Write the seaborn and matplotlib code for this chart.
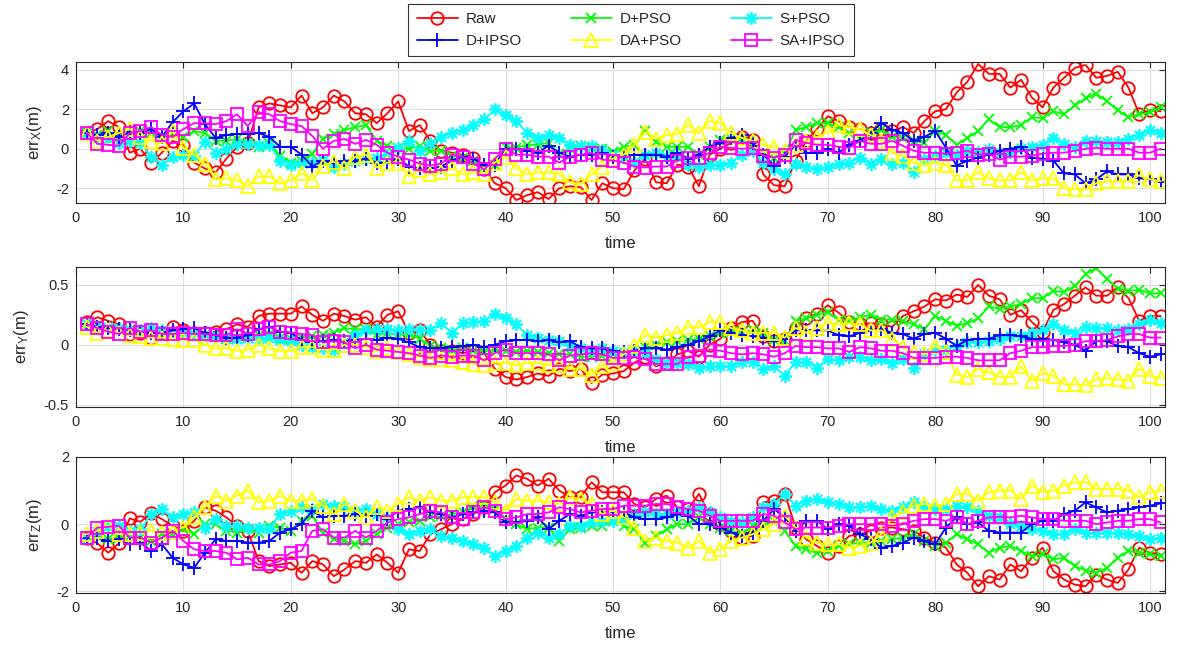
import numpy as np
import pandas as pd
import matplotlib
matplotlib.use("Agg")
import matplotlib.pyplot as plt
import seaborn as sns

# ---------------- data ----------------
t = list(range(1, 102))
names = ["Raw", "D+IPSO", "D+PSO", "DA+PSO", "S+PSO", "SA+IPSO"]

raw_x = [0.8,1.0,1.4,1.1,-0.2,0.0,-0.7,-0.2,0.4,0.2,-0.7,-1.0,-1.2,-0.5,0.1,0.3,2.1,2.3,2.2,2.1,
         2.7,1.8,2.1,2.7,2.4,1.8,1.75,1.3,1.8,2.4,0.9,1.2,0.4,-0.1,-0.2,-0.3,-0.45,-1.05,-1.75,-2.0,
         -2.6,-2.35,-2.2,-2.55,-2.0,-1.9,-1.95,-2.6,-1.75,-2.0,-2.05,-1.1,-0.5,-1.7,-1.75,-0.8,-0.9,-1.9,-0.3,0.0,
         0.3,0.6,0.45,-1.3,-1.85,-1.9,-0.6,0.4,1.0,1.65,1.4,1.1,1.0,0.8,1.0,0.9,1.1,0.8,1.4,1.9,
         2.0,2.85,3.4,4.3,3.8,3.8,3.1,3.5,2.6,2.1,3.1,3.6,4.1,4.25,3.6,3.7,3.9,3.1,1.75,1.95,1.9]
dipso_x = [0.8,0.7,0.8,0.6,0.85,0.8,1.0,0.6,1.35,1.9,2.3,1.25,0.55,0.7,0.75,0.75,0.8,0.6,0.1,0.1,
           -0.3,-0.9,-0.6,-0.7,-0.6,-0.6,-0.5,-0.7,-0.7,-0.5,-0.9,-1.0,-1.0,-0.9,-0.6,-0.4,-0.5,-0.8,-0.8,0.0,
           0.0,-0.1,-0.2,0.15,-0.2,-0.4,-0.3,-0.3,-0.2,-0.4,-0.4,-0.3,-0.3,-0.3,-0.4,-0.2,-0.5,-0.3,0.1,0.3,
           0.55,0.7,0.3,-0.3,-0.85,-0.4,0.2,-0.2,-0.2,0.0,-0.2,0.2,0.4,0.8,1.3,0.95,0.8,0.4,0.6,0.9,
           0.05,-0.85,-0.6,-0.45,-0.3,-0.1,0.0,0.1,-0.45,-0.5,-0.6,-1.25,-1.3,-1.75,-1.55,-1.15,-1.3,-1.3,-1.5,-1.55,-1.7]
dpso_x = [0.8,0.7,0.9,0.6,0.8,0.9,0.8,0.6,0.8,0.6,0.9,0.8,0.4,0.4,0.5,0.3,0.1,0.3,-0.35,-0.7,
          -0.6,-0.25,0.5,0.75,0.95,1.1,1.2,0.4,0.15,0.05,0.0,0.15,-0.1,-0.1,-0.35,-0.45,-0.6,-0.9,-0.8,0.1,
          0.05,0.2,0.2,0.3,-0.25,0.0,0.15,0.05,0.0,-0.15,0.1,0.2,0.9,0.35,0.1,0.1,0.1,-0.3,0.1,0.45,
          0.5,0.4,0.2,-0.2,-0.45,-0.25,0.95,1.1,1.3,1.3,1.1,0.8,0.55,0.8,0.95,0.6,0.55,0.4,0.3,0.9,
          0.7,0.2,0.55,0.9,1.5,1.1,1.1,1.2,1.6,1.55,1.9,1.75,2.2,2.55,2.8,2.4,1.95,1.6,1.75,1.85,2.1]
dapso_x = [0.8,0.4,0.6,0.8,1.0,0.6,0.4,0.3,0.9,0.05,-0.3,-0.75,-1.55,-1.5,-1.6,-1.9,-1.4,-1.4,-1.75,-1.6,
           -1.25,-1.6,-0.85,-0.65,-1.0,-0.4,-0.3,-0.95,-0.7,-0.7,-1.4,-1.1,-1.3,-1.2,-1.0,-1.3,-1.2,-1.3,-0.7,-0.4,
           -1.0,-1.3,-1.2,-1.2,-1.3,-1.7,-1.8,-1.3,-0.9,-0.5,-0.3,0.2,0.85,0.5,0.7,0.75,1.2,0.8,1.4,1.3,
           0.8,0.55,0.4,0.2,0.1,-0.1,0.2,0.4,0.6,0.85,1.2,1.1,1.0,0.7,0.4,-0.2,-0.35,-0.7,-0.8,-0.7,
           -0.8,-1.6,-1.6,-1.2,-1.5,-1.6,-1.6,-1.2,-1.6,-1.5,-1.5,-2.0,-2.05,-2.05,-1.75,-1.65,-1.65,-1.65,-1.35,-1.55,-1.65]
spso_x = [0.8,0.55,0.5,0.3,0.4,0.3,-0.4,-0.8,-0.4,-0.3,-0.35,0.35,-0.2,0.0,0.25,0.25,0.2,0.2,-0.6,-0.8,
          -0.7,-0.7,-0.55,-0.9,-0.75,-0.6,-0.5,-0.45,-0.3,0.05,0.4,-0.1,0.3,0.6,0.8,0.95,1.2,1.5,2.0,1.7,
          1.4,0.8,0.55,0.7,0.55,0.2,0.15,0.15,-0.05,-0.3,-0.4,-0.65,-0.3,-0.2,-0.4,-0.3,-0.8,-0.9,-0.8,-0.8,
          -0.7,-0.3,-0.1,-0.7,-1.05,-1.3,-0.75,-0.9,-1.05,-0.9,-0.75,-0.7,-0.45,-0.75,-0.5,-0.75,-0.7,-1.2,-0.5,-0.35,
          -0.2,-0.3,-0.1,-0.15,0.0,-0.2,-0.15,0.05,0.1,0.2,0.55,0.25,0.1,0.4,0.4,0.35,0.35,0.5,0.7,0.95,0.8]
saipso_x = [0.8,0.25,0.2,0.15,0.8,0.9,1.1,0.7,0.6,1.0,1.3,1.3,1.25,1.4,1.75,1.15,1.85,1.75,1.4,1.25,
            1.15,0.65,0.0,0.4,0.5,0.25,0.45,0.2,-0.2,-0.4,-0.55,-0.75,-0.85,-0.75,-0.3,-0.4,-0.75,-1.05,-0.5,0.0,
            -0.3,-0.3,-0.4,-0.4,-0.7,-0.4,-0.3,-0.2,-0.55,-0.6,-0.7,-0.9,-0.95,-0.9,-0.9,-0.6,-0.45,-0.45,-0.2,0.1,
            0.05,0.0,0.05,-0.35,-0.45,-0.3,0.45,0.3,0.2,0.2,0.1,0.05,0.4,0.25,0.25,0.4,0.15,-0.1,-0.2,-0.2,
            -0.25,-0.2,-0.1,-0.3,-0.25,-0.55,-0.4,-0.4,-0.35,-0.25,-0.2,-0.2,-0.1,0.0,0.05,0.0,0.0,0.0,-0.2,-0.2,0.0]

raw_y = [0.19,0.23,0.2,0.17,0.09,0.1,0.06,0.1,0.15,0.12,0.1,0.1,0.11,0.13,0.17,0.15,0.24,0.26,0.26,0.26,
         0.32,0.25,0.2,0.26,0.24,0.21,0.23,0.15,0.25,0.28,0.1,0.12,0.0,-0.05,-0.05,-0.07,-0.05,-0.07,-0.2,-0.27,
         -0.29,-0.27,-0.24,-0.26,-0.2,-0.22,-0.2,-0.32,-0.25,-0.24,-0.22,-0.15,-0.1,-0.18,-0.15,-0.08,-0.05,-0.1,0.0,0.05,
         0.14,0.19,0.2,0.07,0.03,0.05,0.14,0.22,0.26,0.33,0.27,0.19,0.17,0.18,0.17,0.15,0.24,0.28,0.32,0.38,
         0.37,0.42,0.4,0.5,0.41,0.38,0.25,0.29,0.19,0.11,0.29,0.34,0.41,0.48,0.41,0.41,0.48,0.39,0.2,0.24,0.24]
dipso_y = [0.17,0.15,0.14,0.13,0.12,0.11,0.1,0.1,0.12,0.13,0.14,0.1,0.08,0.06,0.06,0.08,0.13,0.15,0.11,0.1,
           0.04,0.02,0.03,0.04,0.03,0.04,0.05,0.04,0.06,0.05,0.02,-0.02,-0.03,-0.03,-0.02,-0.01,0.0,-0.02,0.0,0.03,
           0.04,0.04,0.03,0.04,0.02,0.03,-0.02,-0.03,-0.03,-0.05,-0.06,-0.05,-0.03,-0.03,-0.04,-0.02,0.0,0.03,0.07,0.12,
           0.1,0.08,0.07,0.06,0.03,0.05,0.12,0.12,0.12,0.12,0.08,0.07,0.1,0.12,0.13,0.1,0.09,0.05,0.09,0.1,
           0.05,-0.01,0.04,0.05,0.05,0.08,0.08,0.07,0.05,0.05,0.04,0.02,0.0,-0.05,0.03,0.03,-0.01,-0.02,-0.07,-0.1,-0.08]
dpso_y = [0.17,0.15,0.14,0.13,0.12,0.1,0.1,0.08,0.1,0.11,0.09,0.08,0.07,0.05,0.05,0.06,0.08,0.09,0.06,0.05,
          0.06,0.07,0.08,0.1,0.14,0.13,0.13,0.08,0.1,0.08,0.09,0.05,-0.01,-0.03,-0.04,-0.03,-0.05,-0.06,-0.04,-0.05,
          -0.06,-0.05,-0.06,-0.07,-0.08,-0.08,-0.1,-0.1,-0.09,-0.1,-0.08,-0.05,-0.02,0.0,0.02,0.03,0.04,0.05,0.07,0.1,
          0.11,0.11,0.12,0.1,0.04,0.03,0.2,0.22,0.25,0.27,0.21,0.2,0.23,0.25,0.21,0.21,0.2,0.17,0.13,0.24,
          0.2,0.16,0.18,0.22,0.32,0.3,0.32,0.34,0.39,0.39,0.45,0.44,0.49,0.59,0.64,0.55,0.47,0.45,0.46,0.43,0.43]
dapso_y = [0.15,0.1,0.12,0.1,0.08,0.07,0.06,0.06,0.05,0.04,0.04,0.0,-0.03,-0.03,-0.05,-0.04,0.0,-0.03,-0.05,-0.05,
           -0.02,-0.02,-0.04,-0.04,0.0,0.0,-0.02,-0.05,-0.03,-0.06,-0.08,-0.1,-0.12,-0.12,-0.13,-0.14,-0.16,-0.17,-0.15,-0.15,
           -0.17,-0.15,-0.15,-0.17,-0.17,-0.2,-0.2,-0.25,-0.18,-0.15,-0.08,-0.01,0.08,0.06,0.08,0.1,0.15,0.15,0.19,0.19,
           0.14,0.12,0.1,0.1,0.1,0.06,0.14,0.1,0.14,0.18,0.17,0.18,0.17,0.12,0.12,0.05,-0.02,-0.06,-0.08,-0.01,
           -0.06,-0.25,-0.27,-0.2,-0.23,-0.27,-0.27,-0.18,-0.3,-0.24,-0.26,-0.33,-0.33,-0.34,-0.29,-0.28,-0.29,-0.3,-0.2,-0.26,-0.28]
spso_y = [0.17,0.15,0.15,0.14,0.12,0.12,0.14,0.12,0.1,0.1,0.09,0.08,0.07,0.06,0.05,0.06,0.05,0.06,0.04,0.03,
          0.0,-0.02,-0.03,-0.04,0.02,0.08,0.12,0.13,0.13,0.12,0.13,0.12,0.12,0.18,0.1,0.18,0.19,0.2,0.26,0.22,
          0.17,0.08,0.06,0.04,0.03,0.0,-0.03,-0.04,-0.03,-0.05,-0.06,-0.05,-0.07,-0.12,-0.15,-0.15,-0.16,-0.19,-0.18,-0.18,
          -0.18,-0.14,-0.14,-0.2,-0.18,-0.26,-0.14,-0.14,-0.19,-0.12,-0.13,-0.1,-0.1,-0.13,-0.12,-0.15,-0.12,-0.19,-0.07,-0.04,
          -0.04,-0.01,0.02,0.02,0.03,0.05,0.07,0.07,0.1,0.12,0.17,0.12,0.1,0.15,0.14,0.14,0.12,0.13,0.17,0.21,0.18]
saipso_y = [0.17,0.14,0.11,0.09,0.14,0.11,0.12,0.09,0.09,0.1,0.09,0.09,0.08,0.08,0.13,0.09,0.13,0.15,0.11,0.1,
            0.09,0.08,0.02,0.03,0.02,-0.03,0.0,-0.04,-0.05,-0.06,-0.07,-0.09,-0.11,-0.09,-0.1,-0.09,-0.09,-0.13,-0.07,-0.04,
            -0.07,-0.07,-0.07,-0.08,-0.13,-0.09,-0.08,-0.07,-0.08,-0.11,-0.11,-0.1,-0.12,-0.16,-0.16,-0.16,-0.1,-0.09,-0.04,-0.05,
            -0.07,-0.08,-0.07,-0.08,-0.1,-0.07,-0.01,-0.02,-0.02,-0.03,-0.03,-0.06,-0.02,-0.03,-0.05,-0.05,-0.07,-0.11,-0.11,-0.11,
            -0.1,-0.1,-0.11,-0.13,-0.13,-0.13,-0.07,-0.05,-0.02,-0.02,-0.01,-0.01,0.0,0.03,0.03,0.04,0.07,0.09,0.09,0.06,0.06]

raw_z = [-0.42,-0.57,-0.85,-0.57,0.17,0.07,0.32,0.15,-0.05,-0.2,0.1,0.5,0.4,0.2,-0.05,-0.2,-1.1,-1.25,-1.2,-1.15,
         -1.45,-1.1,-1.2,-1.55,-1.35,-1.1,-1.15,-0.9,-1.15,-1.45,-0.75,-0.8,-0.3,-0.15,0.0,0.15,0.3,0.5,0.95,1.15,
         1.45,1.35,1.15,1.35,1.0,0.8,0.8,1.25,0.95,0.95,0.95,0.6,0.5,0.75,0.85,0.5,0.45,0.9,0.3,0.0,
         -0.2,-0.4,-0.35,0.65,0.7,0.9,-0.1,-0.45,-0.65,-0.85,-0.65,-0.35,-0.3,-0.2,-0.1,-0.1,-0.15,-0.2,-0.4,-0.55,
         -0.7,-1.2,-1.45,-1.85,-1.55,-1.65,-1.2,-1.4,-1.0,-0.7,-1.4,-1.65,-1.8,-1.85,-1.5,-1.65,-1.75,-1.35,-0.7,-0.85,-0.9]
dipso_z = [-0.4,-0.4,-0.5,-0.45,-0.6,-0.55,-0.8,-0.6,-1.0,-1.2,-1.3,-0.85,-0.45,-0.5,-0.5,-0.55,-0.55,-0.5,-0.25,-0.15,
           0.0,0.4,0.2,0.25,0.25,0.3,0.25,0.3,0.15,0.4,0.45,0.5,0.35,0.3,0.2,0.3,0.35,0.4,0.35,0.05,
           0.05,0.1,0.2,-0.15,0.1,0.3,0.25,0.35,0.35,0.35,0.35,0.2,0.15,0.15,0.2,0.3,0.25,0.0,0.0,-0.1,
           -0.25,-0.35,-0.25,0.1,0.45,0.2,-0.2,0.1,0.1,-0.15,0.0,-0.05,-0.3,-0.45,-0.7,-0.65,-0.55,-0.4,-0.5,-0.6,
           -0.1,0.2,0.0,0.05,-0.2,-0.25,-0.25,-0.25,0.0,0.1,0.1,0.3,0.4,0.65,0.5,0.35,0.4,0.45,0.5,0.55,0.62]
dpso_z = [-0.4,-0.35,-0.45,-0.4,-0.35,-0.4,-0.5,-0.3,-0.35,-0.15,-0.3,0.0,0.0,-0.2,-0.25,-0.15,-0.25,-0.05,-0.1,-0.2,
          0.1,0.25,-0.25,-0.45,-0.5,-0.6,-0.5,-0.3,-0.1,0.0,0.05,0.1,0.2,0.25,0.3,0.35,0.55,0.6,0.45,0.15,
          0.0,-0.15,-0.1,-0.1,-0.5,-0.15,-0.1,-0.05,-0.05,0.1,-0.05,-0.15,-0.55,-0.35,-0.15,0.0,0.0,0.2,0.0,-0.1,
          -0.2,-0.3,-0.05,-0.05,0.1,-0.2,-0.65,-0.75,-0.85,-0.8,-0.65,-0.6,-0.55,-0.55,-0.5,-0.45,-0.4,-0.3,-0.5,-0.65,
          -0.55,-0.3,-0.45,-0.6,-0.85,-0.7,-0.65,-0.8,-0.95,-0.9,-1.05,-1.0,-1.25,-1.38,-1.45,-1.3,-1.0,-0.8,-0.85,-0.9,-0.95]
dapso_z = [-0.3,-0.2,-0.05,-0.3,-0.3,-0.25,-0.2,-0.25,-0.2,-0.1,0.2,0.5,0.85,0.7,0.85,1.0,0.65,0.7,0.85,0.7,
           0.7,0.75,0.55,0.3,0.6,0.4,0.2,0.5,0.4,0.6,0.8,0.7,0.8,0.7,0.7,0.8,0.8,0.8,0.65,0.4,
           0.75,0.7,0.7,0.65,0.6,0.8,0.75,0.6,0.3,0.4,0.2,-0.1,-0.5,-0.4,-0.5,-0.55,-0.7,-0.5,-0.85,-0.75,
           -0.5,-0.4,-0.3,-0.15,0.0,0.25,-0.1,-0.4,-0.55,-0.6,-0.6,-0.7,-0.65,-0.55,-0.3,0.2,0.35,0.55,0.6,0.55,
           0.6,0.9,0.9,0.7,0.95,1.0,1.0,0.75,1.15,0.95,1.0,1.15,1.25,1.25,1.05,1.05,1.05,1.0,0.8,0.95,1.0]
spso_z = [-0.4,-0.2,-0.05,-0.05,-0.2,-0.15,0.3,0.45,0.2,0.3,0.35,-0.1,0.15,-0.05,-0.05,-0.1,-0.1,-0.15,0.3,0.4,
          0.5,0.45,0.6,0.55,0.5,0.4,0.45,0.3,0.2,-0.15,-0.3,-0.2,-0.15,-0.35,-0.4,-0.5,-0.6,-0.7,-0.95,-0.8,
          -0.65,-0.4,-0.25,-0.4,-0.3,-0.05,-0.05,0.05,0.1,0.1,0.15,0.3,0.35,0.3,0.3,0.35,0.4,0.5,0.35,0.2,
          0.1,0.05,0.2,0.5,0.6,0.9,0.55,0.7,0.75,0.65,0.6,0.5,0.5,0.55,0.45,0.4,0.5,0.65,0.5,0.45,
          0.45,0.55,0.5,0.4,0.25,0.2,0.0,-0.05,-0.15,-0.2,-0.3,-0.3,-0.15,-0.25,-0.25,-0.25,-0.25,-0.3,-0.35,-0.45,-0.4]
saipso_z = [-0.4,-0.1,-0.08,-0.05,-0.4,-0.4,-0.55,-0.4,-0.2,-0.5,-0.75,-0.8,-0.8,-0.85,-1.05,-1.0,-1.2,-1.2,-1.1,-0.85,
            -0.8,-0.2,-0.15,-0.4,-0.4,-0.2,-0.4,-0.2,0.05,0.15,0.2,0.3,0.4,0.35,0.2,0.15,0.35,0.5,0.4,0.15,
            0.2,0.3,0.3,0.35,0.5,0.45,0.35,0.4,0.45,0.45,0.55,0.55,0.55,0.6,0.6,0.5,0.45,0.4,0.25,0.1,
            0.1,0.1,0.1,0.3,0.25,0.05,-0.15,-0.1,-0.1,-0.1,-0.05,0.0,0.0,0.0,0.0,-0.05,0.0,0.1,0.15,0.15,
            0.1,0.2,0.0,0.1,0.2,0.22,0.2,0.25,0.2,0.15,0.15,0.1,0.1,0.1,0.0,0.05,0.1,0.1,0.15,0.15,0.05]

panels = [
    {"Raw": raw_x, "D+IPSO": dipso_x, "D+PSO": dpso_x, "DA+PSO": dapso_x, "S+PSO": spso_x, "SA+IPSO": saipso_x},
    {"Raw": raw_y, "D+IPSO": dipso_y, "D+PSO": dpso_y, "DA+PSO": dapso_y, "S+PSO": spso_y, "SA+IPSO": saipso_y},
    {"Raw": raw_z, "D+IPSO": dipso_z, "D+PSO": dpso_z, "DA+PSO": dapso_z, "S+PSO": spso_z, "SA+IPSO": saipso_z},
]
ylabels = [r"err$_\mathregular{X}$(m)", r"err$_\mathregular{Y}$(m)", r"err$_\mathregular{Z}$(m)"]
yticks = [[-2, 0, 2, 4], [-0.5, 0, 0.5], [-2, 0, 2]]
yticklabels = [["-2", "0", "2", "4"], ["-0.5", "0", "0.5"], ["-2", "0", "2"]]
ylims = [(-2.75, 4.4), (-0.52, 0.65), (-2.05, 2.0)]
xticks = list(range(0, 101, 10))

# ---------------- style ----------------
sns.set_style("white")
plt.rcParams["font.family"] = ["Liberation Sans", "DejaVu Sans"]
plt.rcParams["mathtext.default"] = "regular"

styles = {
    "Raw":     dict(color="#FF0000", marker="o", ms=9),
    "D+IPSO":  dict(color="#0000FF", marker="+", ms=10),
    "D+PSO":   dict(color="#00FF00", marker="x", ms=7),
    "DA+PSO":  dict(color="#FFFF00", marker="^", ms=10),
    "S+PSO":   dict(color="#00FFFF", marker=(8, 2, 0), ms=9),
    "SA+IPSO": dict(color="#FF00FF", marker="s", ms=8.5),
}
draw_order = ["Raw", "D+PSO", "S+PSO", "D+IPSO", "DA+PSO", "SA+IPSO"]

fig = plt.figure(figsize=(11.89, 6.51), dpi=100)
W, H = 1189.0, 651.0
boxes = [(62, 203), (267, 407), (457, 593)]
left_px, right_px = 76, 1165

handles = {}
for i, (top, bot) in enumerate(boxes):
    ax = fig.add_axes([left_px / W, 1 - bot / H, (right_px - left_px) / W, (bot - top) / H])
    data = panels[i]
    for name in draw_order:
        st = styles[name]
        sns.lineplot(x=t, y=data[name], ax=ax, color=st["color"], marker=st["marker"],
                     markersize=st["ms"], markerfacecolor="none", markeredgecolor=st["color"],
                     markeredgewidth=1.3, linewidth=1.3, label=name, legend=False, sort=False)
        handles[name] = ax.lines[-1]
    ax.set_xlim(0, 101.4)
    ax.set_ylim(*ylims[i])
    ax.set_xticks(xticks)
    ax.set_yticks(yticks[i])
    ax.set_yticklabels(yticklabels[i])
    ax.grid(True, color="#dedede", linewidth=0.8)
    ax.set_axisbelow(True)
    ax.tick_params(direction="in", top=True, right=True, length=4, width=0.8,
                   labelsize=10.5, colors="#262626")
    ax.tick_params(axis="x", pad=6)
    ax.tick_params(axis="y", pad=5)
    for sp in ax.spines.values():
        sp.set_color("#262626")
        sp.set_linewidth(0.8)
        sp.set_visible(True)
    ax.set_xlabel("time", fontsize=12, color="#262626", labelpad=8)
    ax.set_ylabel(ylabels[i], fontsize=12, color="#262626", labelpad=9)

order = ["Raw", "D+IPSO", "D+PSO", "DA+PSO", "S+PSO", "SA+IPSO"]
leg = fig.legend([handles[n] for n in order], order, loc="upper center",
                 bbox_to_anchor=(631 / W, 1 - 4 / H), ncol=3, fontsize=11,
                 frameon=True, fancybox=False, edgecolor="black", handlelength=2.7,
                 columnspacing=3.2, handletextpad=0.5, borderpad=0.55, labelspacing=0.5,
                 borderaxespad=0.0)
leg.get_frame().set_linewidth(0.8)

fig.savefig("out.png", dpi=100, facecolor="white")
